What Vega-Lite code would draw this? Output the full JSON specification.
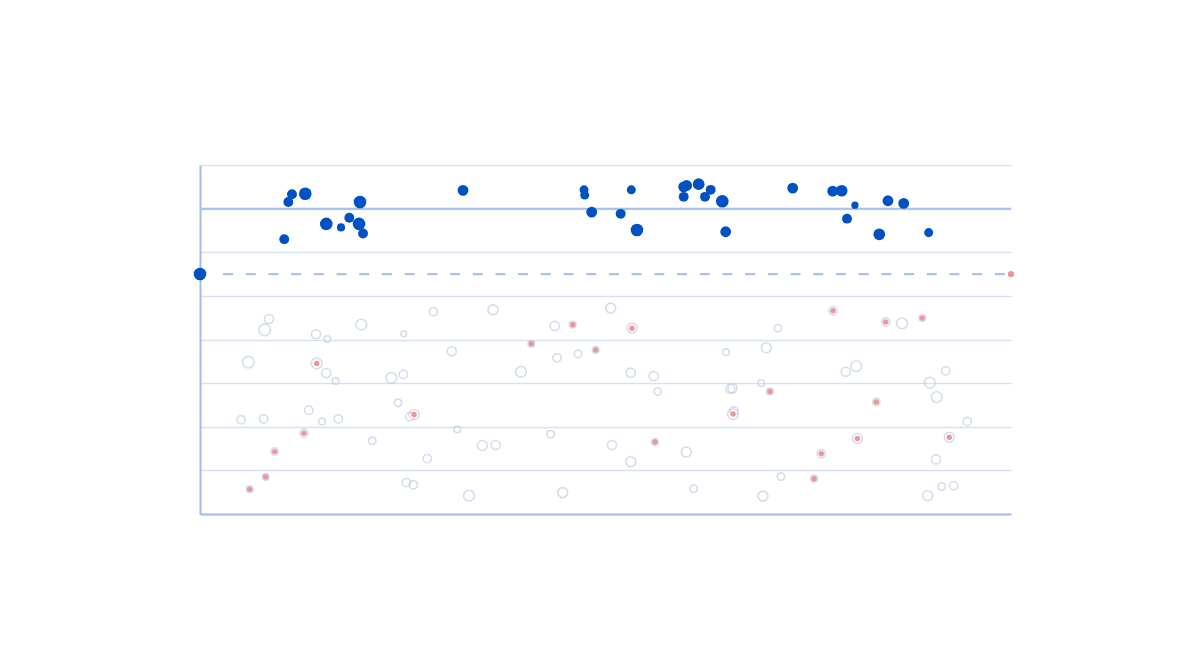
{
  "$schema": "https://vega.github.io/schema/vega-lite/v6.json",
  "width": 811,
  "height": 349,
  "autosize": {"type": "none"},
  "padding": {"left": 200, "top": 165, "right": 189, "bottom": 156},
  "background": "white",
  "datasets": {
    "points": [
      {"x": 10.39, "y": 6.30, "r": 5.5, "group": "high", "flag": false},
      {"x": 10.89, "y": 7.15, "r": 5.5, "group": "high", "flag": false},
      {"x": 11.34, "y": 7.33, "r": 5.5, "group": "high", "flag": false},
      {"x": 12.98, "y": 7.34, "r": 7, "group": "high", "flag": false},
      {"x": 15.57, "y": 6.65, "r": 7, "group": "high", "flag": false},
      {"x": 17.39, "y": 6.57, "r": 4.5, "group": "high", "flag": false},
      {"x": 18.41, "y": 6.79, "r": 5.5, "group": "high", "flag": false},
      {"x": 19.61, "y": 6.65, "r": 7, "group": "high", "flag": false},
      {"x": 19.73, "y": 7.15, "r": 7, "group": "high", "flag": false},
      {"x": 20.10, "y": 6.43, "r": 5.5, "group": "high", "flag": false},
      {"x": 32.43, "y": 7.42, "r": 6, "group": "high", "flag": false},
      {"x": 47.35, "y": 7.43, "r": 5, "group": "high", "flag": false},
      {"x": 47.44, "y": 7.31, "r": 5, "group": "high", "flag": false},
      {"x": 48.30, "y": 6.92, "r": 6, "group": "high", "flag": false},
      {"x": 51.87, "y": 6.88, "r": 5.5, "group": "high", "flag": false},
      {"x": 53.18, "y": 7.43, "r": 5, "group": "high", "flag": false},
      {"x": 53.88, "y": 6.51, "r": 7, "group": "high", "flag": false},
      {"x": 59.64, "y": 7.50, "r": 6, "group": "high", "flag": false},
      {"x": 60.01, "y": 7.53, "r": 6, "group": "high", "flag": false},
      {"x": 59.64, "y": 7.27, "r": 5.5, "group": "high", "flag": false},
      {"x": 61.49, "y": 7.56, "r": 6.5, "group": "high", "flag": false},
      {"x": 62.27, "y": 7.27, "r": 5.5, "group": "high", "flag": false},
      {"x": 62.97, "y": 7.43, "r": 5.5, "group": "high", "flag": false},
      {"x": 64.40, "y": 7.17, "r": 7, "group": "high", "flag": false},
      {"x": 64.82, "y": 6.47, "r": 6, "group": "high", "flag": false},
      {"x": 73.08, "y": 7.47, "r": 6, "group": "high", "flag": false},
      {"x": 78.01, "y": 7.40, "r": 6, "group": "high", "flag": false},
      {"x": 79.12, "y": 7.41, "r": 6.5, "group": "high", "flag": false},
      {"x": 80.76, "y": 7.08, "r": 4, "group": "high", "flag": false},
      {"x": 79.78, "y": 6.77, "r": 5.5, "group": "high", "flag": false},
      {"x": 84.83, "y": 7.18, "r": 6, "group": "high", "flag": false},
      {"x": 86.77, "y": 7.12, "r": 6, "group": "high", "flag": false},
      {"x": 83.76, "y": 6.41, "r": 6.5, "group": "high", "flag": false},
      {"x": 89.85, "y": 6.45, "r": 5, "group": "high", "flag": false},
      {"x": 0, "y": 5.5, "r": 7, "group": "high", "flag": false},
      {"x": 100, "y": 5.5, "r": 3.5, "group": "end", "flag": true},
      {"x": 8.51, "y": 4.47, "r": 5.5, "group": "low", "flag": false},
      {"x": 7.98, "y": 4.22, "r": 7, "group": "low", "flag": false},
      {"x": 14.30, "y": 4.12, "r": 5.5, "group": "low", "flag": false},
      {"x": 15.70, "y": 4.01, "r": 4, "group": "low", "flag": false},
      {"x": 19.89, "y": 4.34, "r": 6.5, "group": "low", "flag": false},
      {"x": 25.12, "y": 4.13, "r": 3.5, "group": "low", "flag": false},
      {"x": 28.77, "y": 4.64, "r": 5, "group": "low", "flag": false},
      {"x": 5.96, "y": 3.48, "r": 7, "group": "low", "flag": false},
      {"x": 14.39, "y": 3.45, "r": 6.5, "group": "low", "flag": true},
      {"x": 15.57, "y": 3.23, "r": 5.5, "group": "low", "flag": false},
      {"x": 16.73, "y": 3.05, "r": 4, "group": "low", "flag": false},
      {"x": 23.59, "y": 3.12, "r": 6.5, "group": "low", "flag": false},
      {"x": 25.07, "y": 3.20, "r": 5, "group": "low", "flag": false},
      {"x": 31.04, "y": 3.73, "r": 5.5, "group": "low", "flag": false},
      {"x": 24.41, "y": 2.55, "r": 4.5, "group": "low", "flag": false},
      {"x": 13.40, "y": 2.38, "r": 5, "group": "low", "flag": false},
      {"x": 5.06, "y": 2.16, "r": 5, "group": "low", "flag": false},
      {"x": 7.85, "y": 2.18, "r": 5, "group": "low", "flag": false},
      {"x": 15.04, "y": 2.12, "r": 4, "group": "low", "flag": false},
      {"x": 17.05, "y": 2.18, "r": 5, "group": "low", "flag": false},
      {"x": 25.89, "y": 2.23, "r": 5, "group": "low", "flag": false},
      {"x": 26.39, "y": 2.28, "r": 6, "group": "low", "flag": true},
      {"x": 31.73, "y": 1.94, "r": 4, "group": "low", "flag": false},
      {"x": 12.82, "y": 1.85, "r": 5, "group": "low", "flag": true},
      {"x": 21.25, "y": 1.68, "r": 4.5, "group": "low", "flag": false},
      {"x": 9.21, "y": 1.43, "r": 4.5, "group": "low", "flag": true},
      {"x": 28.03, "y": 1.27, "r": 5, "group": "low", "flag": false},
      {"x": 8.10, "y": 0.85, "r": 4, "group": "low", "flag": true},
      {"x": 6.13, "y": 0.57, "r": 4, "group": "low", "flag": true},
      {"x": 25.44, "y": 0.72, "r": 5, "group": "low", "flag": false},
      {"x": 26.30, "y": 0.67, "r": 5, "group": "low", "flag": false},
      {"x": 33.17, "y": 0.42, "r": 6.5, "group": "low", "flag": false},
      {"x": 36.13, "y": 4.68, "r": 6, "group": "low", "flag": false},
      {"x": 50.64, "y": 4.72, "r": 6, "group": "low", "flag": false},
      {"x": 43.74, "y": 4.31, "r": 5.5, "group": "low", "flag": false},
      {"x": 45.96, "y": 4.34, "r": 4, "group": "low", "flag": true},
      {"x": 53.27, "y": 4.26, "r": 6, "group": "low", "flag": true},
      {"x": 40.85, "y": 3.90, "r": 4, "group": "low", "flag": true},
      {"x": 44.02, "y": 3.58, "r": 5, "group": "low", "flag": false},
      {"x": 46.61, "y": 3.67, "r": 4.5, "group": "low", "flag": false},
      {"x": 48.79, "y": 3.76, "r": 4, "group": "low", "flag": true},
      {"x": 64.86, "y": 3.71, "r": 4, "group": "low", "flag": false},
      {"x": 39.58, "y": 3.26, "r": 6.5, "group": "low", "flag": false},
      {"x": 53.11, "y": 3.24, "r": 5.5, "group": "low", "flag": false},
      {"x": 55.94, "y": 3.16, "r": 5.5, "group": "low", "flag": false},
      {"x": 56.44, "y": 2.81, "r": 4.5, "group": "low", "flag": false},
      {"x": 65.39, "y": 2.87, "r": 5.5, "group": "low", "flag": false},
      {"x": 65.66, "y": 2.88, "r": 5.5, "group": "low", "flag": false},
      {"x": 65.72, "y": 2.29, "r": 6.5, "group": "low", "flag": true},
      {"x": 65.84, "y": 2.36, "r": 5, "group": "low", "flag": false},
      {"x": 34.81, "y": 1.57, "r": 6, "group": "low", "flag": false},
      {"x": 36.46, "y": 1.58, "r": 5.5, "group": "low", "flag": false},
      {"x": 43.24, "y": 1.83, "r": 4.5, "group": "low", "flag": false},
      {"x": 50.80, "y": 1.58, "r": 5.5, "group": "low", "flag": false},
      {"x": 56.10, "y": 1.65, "r": 4, "group": "low", "flag": true},
      {"x": 59.96, "y": 1.42, "r": 6, "group": "low", "flag": false},
      {"x": 53.11, "y": 1.20, "r": 6, "group": "low", "flag": false},
      {"x": 44.72, "y": 0.49, "r": 6, "group": "low", "flag": false},
      {"x": 60.88, "y": 0.58, "r": 4.5, "group": "low", "flag": false},
      {"x": 78.05, "y": 4.66, "r": 5, "group": "low", "flag": true},
      {"x": 84.55, "y": 4.40, "r": 5, "group": "low", "flag": true},
      {"x": 86.56, "y": 4.37, "r": 6.5, "group": "low", "flag": false},
      {"x": 89.06, "y": 4.49, "r": 4, "group": "low", "flag": true},
      {"x": 71.27, "y": 4.26, "r": 4.5, "group": "low", "flag": false},
      {"x": 69.83, "y": 3.81, "r": 6, "group": "low", "flag": false},
      {"x": 79.62, "y": 3.26, "r": 5.5, "group": "low", "flag": false},
      {"x": 80.92, "y": 3.39, "r": 6.5, "group": "low", "flag": false},
      {"x": 91.95, "y": 3.28, "r": 5, "group": "low", "flag": false},
      {"x": 69.21, "y": 3.00, "r": 4, "group": "low", "flag": false},
      {"x": 70.28, "y": 2.81, "r": 4, "group": "low", "flag": true},
      {"x": 89.98, "y": 3.01, "r": 6.5, "group": "low", "flag": false},
      {"x": 90.84, "y": 2.68, "r": 6.5, "group": "low", "flag": false},
      {"x": 83.39, "y": 2.57, "r": 4.5, "group": "low", "flag": true},
      {"x": 94.61, "y": 2.12, "r": 5, "group": "low", "flag": false},
      {"x": 81.05, "y": 1.73, "r": 6, "group": "low", "flag": true},
      {"x": 92.39, "y": 1.76, "r": 6, "group": "low", "flag": true},
      {"x": 76.61, "y": 1.38, "r": 5, "group": "low", "flag": true},
      {"x": 90.75, "y": 1.25, "r": 5.5, "group": "low", "flag": false},
      {"x": 71.64, "y": 0.86, "r": 4.5, "group": "low", "flag": false},
      {"x": 75.71, "y": 0.81, "r": 4, "group": "low", "flag": true},
      {"x": 69.42, "y": 0.41, "r": 6, "group": "low", "flag": false},
      {"x": 89.73, "y": 0.42, "r": 6, "group": "low", "flag": false},
      {"x": 91.45, "y": 0.63, "r": 4.5, "group": "low", "flag": false},
      {"x": 92.93, "y": 0.65, "r": 5, "group": "low", "flag": false}
    ]
  },
  "resolve": {"scale": {"size": "independent"}},
  "layer": [
    {
      "data": {"values": [{"y": 0}]},
      "mark": {"type": "rule", "opacity": 0},
      "encoding": {
        "y": {
          "field": "y",
          "type": "quantitative",
          "scale": {"domain": [0, 8], "nice": false, "zero": false},
          "axis": {
            "values": [0, 1, 2, 3, 4, 5, 6, 7, 8],
            "grid": true,
            "gridColor": "#d8e1f1",
            "gridWidth": 1.3,
            "labels": false,
            "ticks": false,
            "title": null,
            "domain": true,
            "domainColor": "#a0bde9",
            "domainWidth": 2
          }
        }
      }
    },
    {
      "data": {"values": [{"y": 7}]},
      "mark": {"type": "rule", "color": "#a6c0ea", "strokeWidth": 2},
      "encoding": {
        "y": {"field": "y", "type": "quantitative"}
      }
    },
    {
      "data": {"values": [{"x": 2.84, "x2": 100, "y": 5.5}]},
      "mark": {"type": "rule", "color": "#a6c4ec", "strokeWidth": 2.2, "strokeDash": [10, 12.7]},
      "encoding": {
        "x": {"field": "x", "type": "quantitative"},
        "x2": {"field": "x2"},
        "y": {"field": "y", "type": "quantitative"}
      }
    },
    {
      "data": {"name": "points"},
      "transform": [{"filter": "datum.group == 'low'"}],
      "mark": {"type": "point", "shape": "circle", "filled": false, "stroke": "#c3cee4", "strokeWidth": 1.6, "fill": null},
      "encoding": {
        "x": {
          "field": "x",
          "type": "quantitative",
          "scale": {"domain": [0, 100], "nice": false, "zero": false},
          "axis": {
            "grid": false,
            "labels": false,
            "ticks": false,
            "title": null,
            "domain": true,
            "domainColor": "#a0bde9",
            "domainWidth": 2
          }
        },
        "y": {"field": "y", "type": "quantitative"},
        "size": {
          "field": "r",
          "type": "quantitative",
          "scale": {"type": "pow", "exponent": 2, "domain": [0, 10], "range": [0, 275]},
          "legend": null
        }
      }
    },
    {
      "data": {"name": "points"},
      "transform": [{"filter": "datum.flag"}],
      "mark": {"type": "circle", "color": "#ee9799", "opacity": 1},
      "encoding": {
        "x": {"field": "x", "type": "quantitative"},
        "y": {"field": "y", "type": "quantitative"},
        "size": {
          "field": "group",
          "type": "nominal",
          "scale": {"domain": ["low", "end"], "range": [30, 40]},
          "legend": null
        }
      }
    },
    {
      "data": {"name": "points"},
      "transform": [{"filter": "datum.group == 'high'"}],
      "mark": {"type": "circle", "color": "#0052c2", "opacity": 1},
      "encoding": {
        "x": {"field": "x", "type": "quantitative"},
        "y": {"field": "y", "type": "quantitative"},
        "size": {
          "field": "r",
          "type": "quantitative",
          "scale": {"type": "pow", "exponent": 2, "domain": [0, 10], "range": [0, 325]},
          "legend": null
        }
      }
    }
  ],
  "config": {
    "view": {"stroke": null}
  }
}
